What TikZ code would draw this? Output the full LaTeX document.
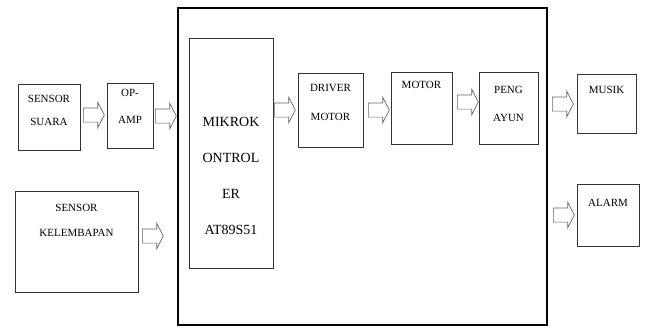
\documentclass[tikz,border=0pt]{standalone}
\usepackage{fontspec}
\setmainfont{Liberation Serif}
\usetikzlibrary{shapes,arrows}

\begin{document}
\begin{tikzpicture}[x=1pt,y=-1pt,
    blok/.style={draw=black!80,line width=0.8pt,inner sep=0pt},
    teks/.style={align=center,inner sep=0pt,anchor=north,font=\fontsize{11}{27}\selectfont},
    panah/.style={single arrow,draw=black!60,line width=0.7pt,fill=white,inner sep=0pt,
        text height=13.5pt,text depth=0pt,minimum height=21pt,anchor=tail,
        single arrow head extend=5.75pt,single arrow tip angle=125}]
    \useasboundingbox (0,0) rectangle (645,327);
    \node[draw,line width=2.6pt,minimum width=369,minimum height=317] (rangka) at (362.5,166.5) {};

    \node[blok,minimum width=62,minimum height=66,
        label={[teks,yshift=-11.4pt,font=\fontsize{11}{23}\selectfont]north:{SENSOR\\SUARA}}] (suara) at (49,117) {};
    \node[blok,minimum width=46,minimum height=65,
        label={[teks,yshift=-6.4pt]north:{OP-\\AMP}}] (opamp) at (130,115.5) {};
    \node[blok,minimum width=123,minimum height=101,
        label={[teks,yshift=-13.4pt,font=\fontsize{11}{25}\selectfont]north:{SENSOR\\KELEMBAPAN}}] (lembap) at (76.5,241.5) {};
    \node[blok,minimum width=84,minimum height=230,
        label={[teks,yshift=-79.4pt,font=\fontsize{14}{36}\selectfont]north:{MIKROK\\ONTROL\\ER\\AT89S51}}] (mikro) at (231,153) {};
    \node[blok,minimum width=65,minimum height=74,
        label={[teks,yshift=-11.4pt,font=\fontsize{11}{29}\selectfont]north:{DRIVER\\MOTOR}}] (driver) at (330.5,110) {};
    \node[blok,minimum width=61,minimum height=72,
        label={[teks,yshift=-9.4pt]north:MOTOR}] (motor) at (421.5,108) {};
    \node[blok,minimum width=59,minimum height=72,
        label={[teks,yshift=-14.4pt,font=\fontsize{11}{28}\selectfont]north:{PENG\\AYUN}}] (ayun) at (508.5,108) {};
    \node[blok,minimum width=59,minimum height=59,
        label={[teks,yshift=-12.4pt]north:MUSIK}] (musik) at (606.5,103.5) {};
    \node[blok,minimum width=62,minimum height=62,
        label={[teks,yshift=-15.4pt]north:ALARM}] (alarm) at (608,215) {};

    \node[panah] (p1) at (83,115) {};
    \node[panah] (p2) at (155,116) {};
    \node[panah] (p3) at (142,236) {};
    \node[panah] (p4) at (274,110) {};
    \node[panah] (p5) at (368,110) {};
    \node[panah] (p6) at (457,102) {};
    \node[panah] (p7) at (552,104) {};
    \node[panah] (p8) at (553,215) {};
\end{tikzpicture}
\end{document}
